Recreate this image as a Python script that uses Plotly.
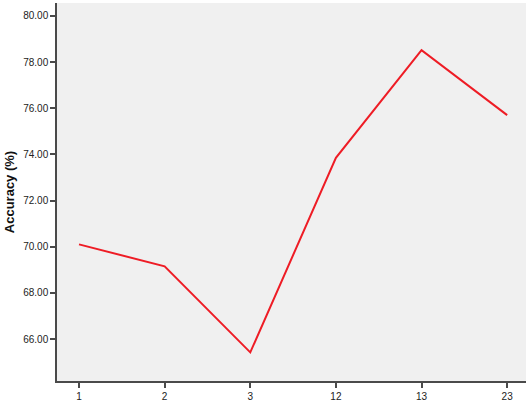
import plotly.graph_objects as go

categories = ["1", "2", "3", "12", "13", "23"]
accuracy = [70.1, 69.15, 65.42, 73.85, 78.52, 75.7]

AXIS = "#4a4a4a"

fig = go.Figure(go.Scatter(x=categories, y=accuracy, mode="lines",
                           line=dict(color="#ee1c25", width=2)))
fig.update_layout(width=529, height=401, paper_bgcolor="white", plot_bgcolor="#f0f0f0",
                  margin=dict(l=57, r=3, t=3, b=20, autoexpand=False), showlegend=False,
                  font=dict(family="Arial, Liberation Sans, sans-serif", size=10, color="#222"))
fig.update_xaxes(type="category", range=[-0.257, 5.22], showgrid=False, zeroline=False,
                 showline=True, linecolor=AXIS, linewidth=1.5, automargin=False,
                 ticks="outside", ticklen=5, tickcolor=AXIS, tickwidth=1.5)
fig.update_yaxes(range=[64.18, 80.56], tickvals=[66, 68, 70, 72, 74, 76, 78, 80],
                 tickformat=".2f", showgrid=False, zeroline=False, automargin=False,
                 showline=True, linecolor=AXIS, linewidth=1.5,
                 ticks="outside", ticklen=5, tickcolor=AXIS, tickwidth=1.5,
                 title=dict(text="<b>Accuracy (%)</b>", font=dict(size=13, color="#111"), standoff=6))
# page body has a default margin; drop it so the chart sits at the window's corner
fig.write_html("out.html", config={"displayModeBar": False},
               post_script="document.body.style.margin='0';")
